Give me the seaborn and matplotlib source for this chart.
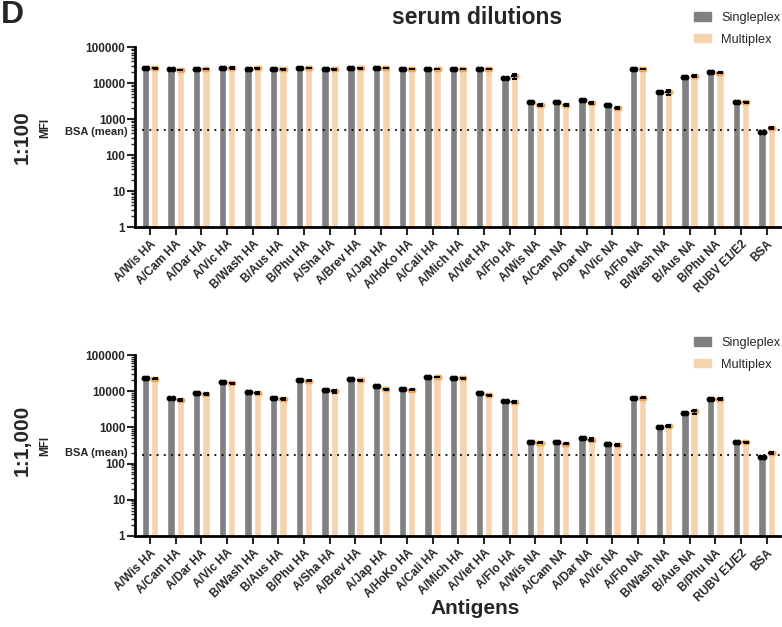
import numpy as np
import pandas as pd
import matplotlib
matplotlib.use("Agg")
import matplotlib.pyplot as plt
from matplotlib.ticker import FixedLocator, FixedFormatter, LogLocator, NullFormatter
import seaborn as sns

sns.set_theme(style="white")
plt.rcParams["font.family"] = ["Liberation Sans", "DejaVu Sans"]

antigens = ["A/Wis HA", "A/Cam HA", "A/Dar HA", "A/Vic HA", "B/Wash HA", "B/Aus HA",
            "B/Phu HA", "A/Sha HA", "A/Brev HA", "A/Jap HA", "A/HoKo HA", "A/Cali HA",
            "A/Mich HA", "A/Viet HA", "A/Flo HA", "A/Wis NA", "A/Cam NA", "A/Dar NA",
            "A/Vic NA", "A/Flo NA", "B/Wash NA", "B/Aus NA", "B/Phu NA", "RUBV E1/E2", "BSA"]

# MFI at 1:100 serum dilution
single_100 = [26900, 24100, 24500, 25300, 24500, 24100, 26300, 24000, 26300, 26300,
              24500, 24500, 24500, 24500, 14200, 2890, 3000, 3350, 2390, 24500,
              5690, 15100, 20800, 2940, 445]
multi_100 = [25800, 23100, 24500, 26300, 25300, 23800, 26000, 24000, 26000, 26000,
             24500, 24500, 24500, 24500, 15400, 2390, 2480, 2820, 2010, 24500,
             5690, 15300, 19500, 2890, 562]
multi_sd_100 = [900, 500, 500, 1500, 600, 500, 600, 500, 800, 600,
                500, 500, 500, 500, 2200, 150, 150, 150, 100, 600,
                900, 1000, 800, 150, 30]

# MFI at 1:1,000 serum dilution
single_1000 = [23600, 6590, 9070, 18300, 9670, 6590, 20300, 10500, 21700, 13900,
               11700, 24600, 23600, 8880, 5220, 391, 399, 515, 351, 6450,
               1040, 2480, 5930, 391, 157]
multi_1000 = [22100, 5800, 8340, 16400, 8870, 6050, 19500, 9870, 19900, 11200,
              11000, 24600, 22600, 7650, 5000, 375, 359, 463, 330, 6590,
              1085, 2760, 6050, 391, 194]
multi_sd_1000 = [500, 300, 300, 600, 400, 250, 500, 800, 600, 400,
                 400, 500, 500, 300, 250, 15, 15, 40, 15, 300,
                 60, 350, 300, 15, 10]

groups = ["Singleplex", "Multiplex"]
palette = {"Singleplex": "#808080", "Multiplex": "#F5D3AE"}
ytick_vals = [1, 10, 100, 1000, 10000, 100000]
ytick_labels = ["1", "10", "100", "1000", "10000", "100000"]

W, H = 782, 627
fig = plt.figure(figsize=(W / 100, H / 100), dpi=100)


def panel(rect, single, multi, multi_sd, dilution, show_xlabel, dil_y, mfi_y, bsa_dy):
    ax = fig.add_axes(rect)
    df = pd.DataFrame({
        "Antigen": antigens * 2,
        "MFI": single + multi,
        "Assay": [groups[0]] * len(antigens) + [groups[1]] * len(antigens),
    })
    sns.barplot(data=df, x="Antigen", y="MFI", hue="Assay", order=antigens,
                hue_order=groups, palette=palette, width=0.72, gap=0.2,
                errorbar=None, saturation=1, ax=ax, legend=False)
    ax.set_yscale("log")
    ax.set_ylim(1, 100000)
    ax.set_xlim(-0.58, len(antigens) - 0.48)

    # replicate points and spread on top of each bar
    s_bars, m_bars = ax.containers[0], ax.containers[1]
    for bar in s_bars:
        cx = bar.get_x() + bar.get_width() / 2
        h = bar.get_height()
        ax.plot([cx - 0.06, cx + 0.06], [h, h], "o", color="black", ms=3.2, zorder=4)
    for bar, sd in zip(m_bars, multi_sd):
        cx = bar.get_x() + bar.get_width() / 2
        h = bar.get_height()
        ax.plot([cx - 0.06, cx + 0.06], [h, h], "o", color="#EBA55A", ms=3.2, zorder=4)
        ax.errorbar([cx], [h], yerr=[[sd], [sd]], fmt="_", color="black", ms=4,
                    mew=1.4, elinewidth=1.0, capsize=1.8, capthick=1.0, zorder=5)

    # BSA background level
    bsa_mean = (single[-1] + multi[-1]) / 2
    ax.axhline(bsa_mean, color="black", ls=(0, (1, 3)), lw=1.3, zorder=3)
    ax.annotate("BSA (mean)", xy=(0, bsa_mean), xycoords=ax.get_yaxis_transform(),
                xytext=(-5, bsa_dy), textcoords="offset points", ha="right", va="center",
                fontsize=8, fontweight="bold")

    ax.yaxis.set_major_locator(FixedLocator(ytick_vals))
    ax.yaxis.set_major_formatter(FixedFormatter(ytick_labels))
    ax.yaxis.set_minor_locator(LogLocator(base=10, subs=np.arange(2, 10)))
    ax.yaxis.set_minor_formatter(NullFormatter())
    ax.tick_params(axis="y", which="major", direction="out", length=6, width=1.5,
                   labelsize=8.5, pad=1, left=True)
    ax.tick_params(axis="y", which="minor", direction="out", length=3, width=1.0, left=True)
    ax.tick_params(axis="x", direction="out", length=6, width=1.5, labelsize=8.5,
                   pad=2, bottom=True)
    for lbl in ax.get_yticklabels():
        lbl.set_fontweight("bold")
    ax.set_xticks(range(len(antigens)))
    ax.set_xticklabels(antigens, rotation=45, ha="right", rotation_mode="anchor",
                       fontweight="bold", fontsize=8.5)

    for side in ["top", "right"]:
        ax.spines[side].set_visible(False)
    for side in ["left", "bottom"]:
        ax.spines[side].set_linewidth(2)
        ax.spines[side].set_color("black")

    ax.set_xlabel("Antigens" if show_xlabel else "", fontsize=15, fontweight="bold")
    ax.set_ylabel("MFI", fontsize=8.5, fontweight="bold")
    ax.yaxis.set_label_coords(-0.13, mfi_y)
    fig.text(22 / W, rect[1] + rect[3] * dil_y, dilution, rotation=90, ha="center",
             va="center", fontsize=15, fontweight="bold")

    handles = [plt.Rectangle((0, 0), 1, 1, color=palette[g]) for g in groups]
    return ax, handles


ax1, handles = panel([135 / W, 1 - 227 / H, 645 / W, 180 / H],
                     single_100, multi_100, multi_sd_100, "1:100", False, 0.5, 0.55, -1.5)
ax2, _ = panel([135 / W, 1 - 536 / H, 645 / W, 181 / H],
               single_1000, multi_1000, multi_sd_1000, "1:1,000", True, 0.53, 0.5, 1.5)
ax2.xaxis.set_label_coords(475 / W, 1 - 608 / H, transform=fig.transFigure)
ax2.xaxis.label.set_va("center")

for top in (12, 337):
    fig.legend(handles, groups, loc="upper left", bbox_to_anchor=(694 / W, 1 - top / H),
               frameon=False, fontsize=9.2, handlelength=1.35, handleheight=0.6,
               labelspacing=0.75, handletextpad=0.8, borderpad=0, borderaxespad=0)

fig.text(477 / W, 1 - 18 / H, "serum dilutions", ha="center", va="center",
         fontsize=16.5, fontweight="bold")
fig.text(1 / W, 1 - 15 / H, "D", ha="left", va="center", fontsize=23, fontweight="bold")

fig.savefig("out.png", dpi=100)
